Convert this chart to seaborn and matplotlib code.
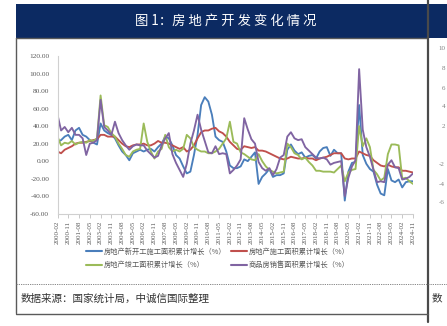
import numpy as np
import pandas as pd
import matplotlib
matplotlib.use("Agg")
import matplotlib.pyplot as plt
import seaborn as sns
from matplotlib.lines import Line2D
from matplotlib.patches import Rectangle

sns.set_theme(style="white")
plt.rcParams["font.family"] = ["Noto Sans CJK SC", "DejaVu Sans"]

# ---------------- data (quarterly readings: Feb, May, Aug, Nov of each year) ----------------
series_names = [
    "房地产新开工施工面积累计增长（%）",
    "房地产施工面积累计增长（%）",
    "房地产竣工面积累计增长（%）",
    "商品房销售面积累计增长（%）",
]
series_colors = ["#4a7ebb", "#c0504d", "#9bbb59", "#8064a2"]

new_start = [
    22, 24, 28, 30,   24, 35, 38, 30,   28, 24, 21, 19,   43, 35, 32, 30,
    26, 18, 11, 7,    1, 9, 11, 13,     11, 13, 14, 11,   16, 20, 28, 26,
    18, 7, 3, -6,     -14, -12, 7, 30,  64, 73, 68, 53,   28, 24, 22, 11,
    -5, -8, -8, -6,   2, 0, 5, 10,      -26, -18, -14, -9, -18, -16, -16, -14,
    13, 19, 12, 8,    10, 4, 6, 7,      3, 11, 15, 16,    6, 13, 9, 9,
    -45, -12, -2, -1, 64, 7, -3, -9,    -12, -27, -37, -39, -9, -22, -24, -21,
    -30, -24, -23, -23,
]
under_construction = [
    11, 9, 13, 15,    17, 20, 21, 21,   22, 23, 24, 25,   30, 30, 28, 28,
    28, 24, 20, 17,   16, 18, 19, 19,   20, 18, 18, 20,   23, 21, 21, 20,
    18, 16, 14, 16,   11, 13, 18, 26,   33, 35, 35, 37,   38, 34, 32, 28,
    22, 18, 14, 13,   17, 16, 15, 16,   12, 12, 11, 9,    7, 5, 3, 2,
    3, 5, 4, 3,       3, 4, 3, 3,       1, 3, 4, 5,       7, 9, 9, 9,
    3, 2, 3, 3,       11, 9, 7, 6,      1, -2, -5, -6,    -4, -6, -7, -7,
    -11, -11, -12, -13,
]
completed = [
    28, 18, 21, 20,   23, 19, 21, 22,   21, 24, 23, 26,   75, 41, 39, 32,
    28, 20, 14, 7,    5, 11, 13, 14,    43, 22, 11, 3,    11, 14, 30, 16,
    11, 13, 11, 14,   30, 26, 16, 13,   11, 11, 9, 9,     11, 14, 20, 26,
    45, 22, 20, 10,   8, 5, 2, 1,       8, 0, -6, -10,    -12, -14, -13, -12,
    20, 16, 9, 7,     2, 4, -1, -5,     -11, -11, -12, -12, -12, -13, -9, -5,
    -23, -13, -10, -9, 40, 17, 26, 16,  -10, -15, -22, -19, 8, 19, 19, 18,
    -20, -19, -23, -26,
]
sales = [
    53, 35, 39, 33,   38, 30, 30, 26,   7, 20, 21, 24,    70, 39, 35, 30,
    45, 32, 24, 18,   13, 17, 19, 18,   18, 12, 8, 4,     6, 18, 26, 32,
    8, -2, -10, -18,  -3, 20, 35, 53,   36, 23, 10, 9,    17, 8, 9, 8,
    -14, -10, -5, 2,  49, 36, 25, 20,   -1, -8, -11, -8,  -16, -9, 4, 7,
    28, 33, 26, 24,   25, 16, 12, 8,    4, 3, 4, 2,       -4, -2, -1, 0,
    -40, -19, -6, 1,  105, 36, 16, 5,   -10, -24, -23, -24, -4, 1, -7, -8,
    -21, -20, -18, -14,
]

dates = pd.date_range("2000-02-01", periods=len(sales), freq="3MS")
tick_dates = pd.date_range("2000-02-01", "2024-11-01", freq="9MS")
tick_labels = [d.strftime("%Y-%m") for d in tick_dates]
y_ticks = [-60, -40, -20, 0, 20, 40, 60, 80, 100, 120]

title_text = "图 1：房 地 产 开 发 变 化 情 况"
source_text = "数据来源：国家统计局，中诚信国际整理"
# visible beginnings of the neighbouring chart's axis labels
side_labels = ["10", "8", "6", "4", "2", "-2", "-4", "-6"]
side_label_rows = [49, 68, 88, 107, 127, 165, 184, 202]


def month_index(d):
    return (d.year - 2000) * 12 + d.month - 2


df = pd.DataFrame({
    "m": [month_index(d) for d in dates],
    series_names[0]: new_start,
    series_names[1]: under_construction,
    series_names[2]: completed,
    series_names[3]: sales,
})
long_df = df.melt(id_vars="m", var_name="series", value_name="value")

# ---------------- figure ----------------
W, H = 447, 326
fig = plt.figure(figsize=(W / 100, H / 100), dpi=100)
fig.patch.set_facecolor("white")


def fx(px):
    return px / W


def fy(py):
    return 1 - py / H


# title bar
fig.patches.append(Rectangle((fx(16), fy(37.5)), fx(W - 16), 34 / H,
                             transform=fig.transFigure, facecolor="#0c2a62",
                             edgecolor="none", zorder=0))
fig.text(fx(226), fy(20.5), title_text, color="white", fontsize=9.6,
         ha="center", va="center")

# frame lines
frame_c = "#5a5a5a"
fig.add_artist(Line2D([fx(16), fx(428)], [fy(38), fy(38)], color=frame_c, lw=1.0, transform=fig.transFigure))
fig.add_artist(Line2D([fx(16), fx(16)], [fy(37.5), fy(313)], color=frame_c, lw=1.0, transform=fig.transFigure))
fig.add_artist(Line2D([fx(428), fx(428)], [fy(0), fy(322)], color="#4a4a4a", lw=1.6, transform=fig.transFigure))
fig.add_artist(Line2D([fx(16), fx(447)], [fy(283.5), fy(283.5)], color="#777777", lw=0.6,
                      ls=(0, (1.5, 1.2)), transform=fig.transFigure))
fig.add_artist(Line2D([fx(16), fx(428)], [fy(313.5), fy(313.5)], color=frame_c, lw=1.0, transform=fig.transFigure))

# footer text
fig.text(fx(21), fy(298.5), source_text, color="#333333", fontsize=7.6, ha="left", va="center",
         style="italic")
fig.text(fx(432), fy(298.5), "数", color="#333333", fontsize=7.6, ha="left", va="center",
         style="italic")

for lab, yy in zip(side_labels, side_label_rows):
    fig.text(fx(445), fy(yy), lab, color="#7f7f7f", fontsize=5.0, ha="right", va="center",
             family="Liberation Serif")

# ---------------- axes ----------------
ax = fig.add_axes([fx(57.5), fy(213.7), fx(413 - 57.5), (213.7 - 56) / H])
sns.lineplot(data=long_df, x="m", y="value", hue="series", hue_order=series_names,
             palette=series_colors, linewidth=1.35, ax=ax, legend=False)
ax.set_xlim(0, 297)
ax.set_ylim(-60, 120)
ax.set_xlabel("")
ax.set_ylabel("")

ax.set_yticks(y_ticks)
ax.set_yticklabels([f"{v:.2f}" for v in y_ticks], family="Liberation Serif", fontsize=5.3, color="#595959")
ax.set_xticks([month_index(d) for d in tick_dates])
ax.set_xticklabels(tick_labels, rotation=90, family="Liberation Serif", fontsize=5.0, color="#595959")
ax.tick_params(axis="y", length=0, pad=6)
ax.tick_params(axis="x", length=3, width=0.6, color="#bfbfbf", pad=2, direction="out")
ax.xaxis.set_ticks_position("bottom")

for s in ["top", "right"]:
    ax.spines[s].set_visible(False)
for s in ["left", "bottom"]:
    ax.spines[s].set_color("#d0d0d0")
    ax.spines[s].set_linewidth(0.8)
ax.set_facecolor("none")
ax.grid(False)

# legend (row 1: blue, red; row 2: green, purple)
handles = [Line2D([], [], color=c, lw=1.5) for c in series_colors]
order = [0, 2, 1, 3]
fig.legend([handles[i] for i in order], [series_names[i] for i in order],
           ncol=2, loc="upper left", bbox_to_anchor=(fx(86), fy(248)),
           frameon=False, fontsize=5.2, handlelength=2.2, handletextpad=0.25,
           columnspacing=0.6, labelspacing=0.7, borderpad=0, borderaxespad=0,
           labelcolor="#595959")

fig.savefig("out.png", dpi=100)
